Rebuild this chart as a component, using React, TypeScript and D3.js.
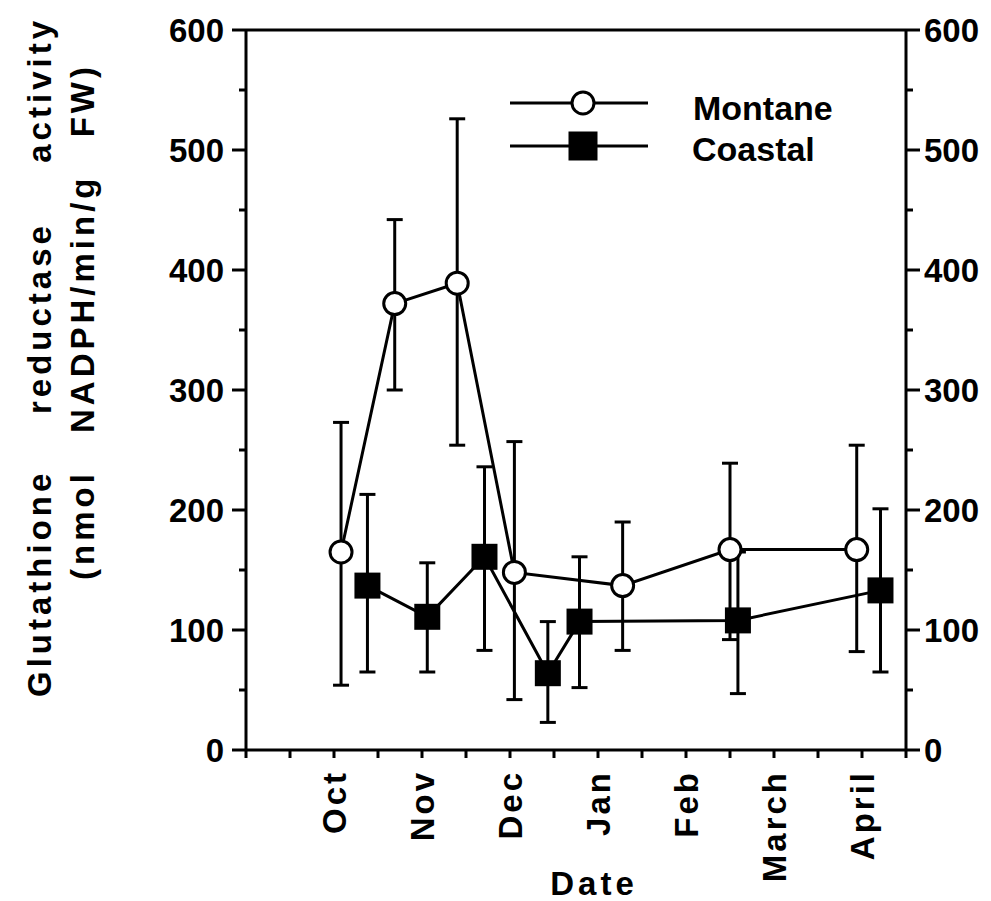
import React from 'react';
import * as d3 from 'd3';

// months counted from Sept (Oct = 1 ... April = 7)
const monthLabels = ['Oct', 'Nov', 'Dec', 'Jan', 'Feb', 'March', 'April'];
const monthTicks = [1, 2, 3, 4, 5, 6, 7];

const montaneDate = [1.08, 1.69, 2.4, 3.05, 4.28, 5.5, 6.94];
const montaneValue = [165, 372, 389, 148, 137, 167, 167];
const montaneHigh = [273, 442, 526, 257, 190, 239, 254];
const montaneLow = [54, 300, 254, 42, 83, 92, 82];

const coastalDate = [1.38, 2.06, 2.71, 3.43, 3.79, 5.59, 7.21];
const coastalValue = [137, 111, 161, 64, 107, 108, 133];
const coastalHigh = [213, 156, 236, 107, 161, 165, 201];
const coastalLow = [65, 65, 83, 23, 52, 47, 65];

const yTicks = [0, 100, 200, 300, 400, 500, 600];
const yMinor = [50, 150, 250, 350, 450, 550];

const W = 991;
const H = 901;
const FONT = '"Liberation Sans", Arial, Helvetica, sans-serif';

export default function App() {
  const x = d3.scaleLinear().domain([0, 7.5]).range([246, 906]);
  const y = d3.scaleLinear().domain([0, 600]).range([750, 30]);

  const line = d3.line<[number, number]>().x(d => x(d[0])).y(d => y(d[1]));

  const montane = montaneDate.map((d, i) => [d, montaneValue[i]] as [number, number]);
  const coastal = coastalDate.map((d, i) => [d, coastalValue[i]] as [number, number]);

  const xMinor = d3.range(0, 7.51, 0.5);
  const sq = 26;
  const cap = 8;

  const errBars = (dates: number[], hi: number[], lo: number[]) =>
    dates.map((d, i) => (
      <g key={i}>
        <line x1={x(d)} x2={x(d)} y1={y(hi[i])} y2={y(lo[i])} />
        <line x1={x(d) - cap} x2={x(d) + cap} y1={y(hi[i])} y2={y(hi[i])} />
        <line x1={x(d) - cap} x2={x(d) + cap} y1={y(lo[i])} y2={y(lo[i])} />
      </g>
    ));

  return (
    <svg width={W} height={H} style={{ position: 'absolute', left: 0, top: 0, background: '#fff' }}
      fontFamily={FONT} fontWeight="bold">
      <rect width={W} height={H} fill="#fff" />

      {/* frame */}
      <g stroke="#000" strokeWidth={3} fill="none">
        <line x1={x(0)} x2={x(0)} y1={y(600)} y2={y(0)} />
        <line x1={x(7.5)} x2={x(7.5)} y1={y(600)} y2={y(0)} />
        <line x1={x(0)} x2={x(7.5)} y1={y(600)} y2={y(600)} />
        <line x1={x(0)} x2={x(7.5)} y1={y(0)} y2={y(0)} />
        {yTicks.map(t => (
          <g key={t}>
            <line x1={x(0) - 14} x2={x(0)} y1={y(t)} y2={y(t)} />
            <line x1={x(7.5)} x2={x(7.5) + 14} y1={y(t)} y2={y(t)} />
          </g>
        ))}
        {yMinor.map(t => (
          <g key={t}>
            <line x1={x(0) - 7} x2={x(0)} y1={y(t)} y2={y(t)} />
            <line x1={x(7.5)} x2={x(7.5) + 7} y1={y(t)} y2={y(t)} />
          </g>
        ))}
        {xMinor.map(t => (
          <line key={t} x1={x(t)} x2={x(t)} y1={y(0)} y2={y(0) + 8} />
        ))}
      </g>

      {/* y tick labels */}
      <g fontSize={33}>
        {yTicks.map(t => (
          <text key={t} x={x(0) - 22} y={y(t)} dy="0.36em" textAnchor="end">{t}</text>
        ))}
        {yTicks.map(t => (
          <text key={t} x={x(7.5) + 18} y={y(t)} dy="0.36em" textAnchor="start">{t}</text>
        ))}
      </g>

      {/* month labels */}
      <g fontSize={33} letterSpacing={3}>
        {monthTicks.map((m, i) => (
          <text key={m} transform={`translate(${x(m)},${y(0) + 20}) rotate(-90)`}
            textAnchor="end" dy="0.36em">{monthLabels[i]}</text>
        ))}
      </g>
      <text x={594} y={895} fontSize={33} letterSpacing={4} textAnchor="middle">Date</text>

      {/* y title */}
      <g fontSize={33} letterSpacing={4}>
        <text transform="translate(51,697) rotate(-90)" textAnchor="start">Glutathione</text>
        <text transform="translate(51,414) rotate(-90)" textAnchor="start">reductase</text>
        <text transform="translate(51,17) rotate(-90)" textAnchor="end">activity</text>
        <text transform="translate(94,580) rotate(-90)" textAnchor="start" wordSpacing={24}>
          (nmol NADPH/min/g FW)
        </text>
      </g>

      {/* series */}
      <g stroke="#000" strokeWidth={3} fill="none">
        {errBars(montaneDate, montaneHigh, montaneLow)}
        {errBars(coastalDate, coastalHigh, coastalLow)}
        <path d={line(montane) || ''} />
        <path d={line(coastal) || ''} />
      </g>
      <g fill="#000">
        {coastal.map((d, i) => (
          <rect key={i} x={x(d[0]) - sq / 2} y={y(d[1]) - sq / 2} width={sq} height={sq} />
        ))}
      </g>
      <g fill="#fff" stroke="#000" strokeWidth={3}>
        {montane.map((d, i) => (
          <circle key={i} cx={x(d[0])} cy={y(d[1])} r={11} />
        ))}
      </g>

      {/* legend */}
      <g stroke="#000" strokeWidth={3}>
        <line x1={510} x2={648} y1={103} y2={103} />
        <line x1={510} x2={648} y1={146} y2={146} />
        <circle cx={583} cy={103} r={11} fill="#fff" />
        <rect x={583 - sq / 2} y={146 - sq / 2} width={sq} height={sq} fill="#000" />
      </g>
      <g fontSize={34}>
        <text x={693} y={120}>Montane</text>
        <text x={692} y={161}>Coastal</text>
      </g>
    </svg>
  );
}
